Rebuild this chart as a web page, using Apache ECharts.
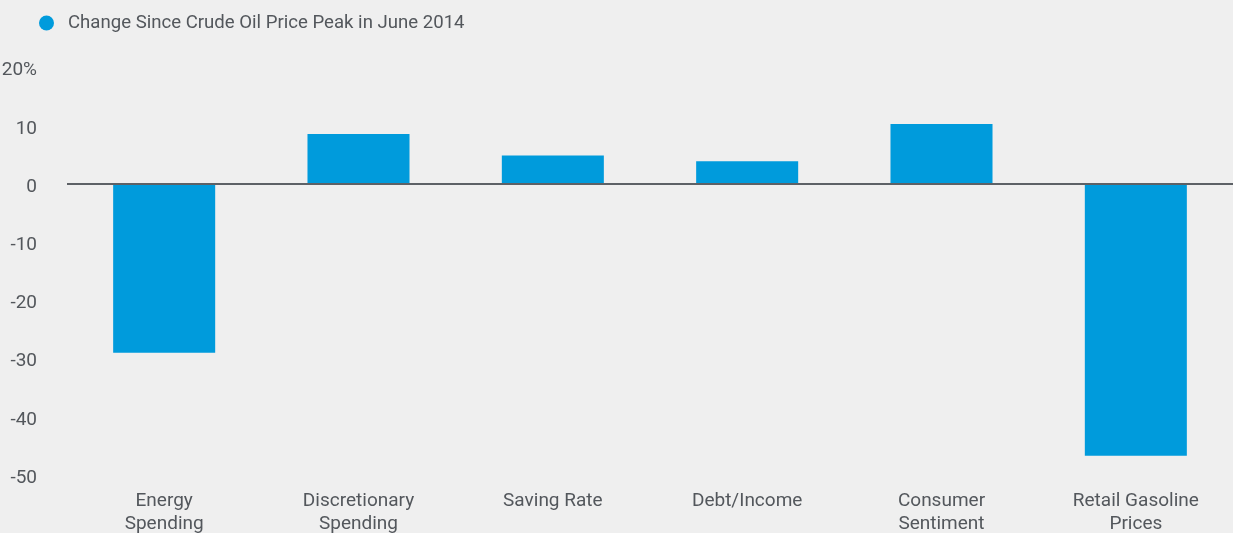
<!DOCTYPE html>
<html>
<head>
<meta charset="utf-8">
<script src="https://cdn.jsdelivr.net/npm/echarts@6/dist/echarts.min.js"></script>
<style>
html,body{margin:0;padding:0;background:#efefef;}
#c{width:1233px;height:533px;}
</style>
</head>
<body>
<div id="c"></div>
<script>
const categories = ['Energy\nSpending', 'Discretionary\nSpending', 'Saving Rate', 'Debt/Income', 'Consumer\nSentiment', 'Retail Gasoline\nPrices'];
const values = [-29.0, 8.6, 4.9, 3.9, 10.3, -46.7];
const seriesName = 'Change Since Crude Oil Price Peak in June 2014';
const yTicks = [20, 10, 0, -10, -20, -30, -40, -50];

const FONT = 'Roboto, "Liberation Sans", sans-serif';
const TXT = '#53575c';
const chart = echarts.init(document.getElementById('c'));
chart.setOption({
  backgroundColor: '#efefef',
  animation: false,
  legend: {
    left: 39, top: 13.5, padding: 0,
    icon: 'circle', itemWidth: 15, itemHeight: 15,
    textStyle: { color: TXT, fontSize: 18.6, fontFamily: FONT, padding: [0, 0, 0, 9] },
    data: [seriesName]
  },
  grid: { left: 67, right: 0, top: 67.6, bottom: 58, containLabel: false, outerBoundsMode: 'none' },
  xAxis: {
    type: 'category',
    data: categories,
    axisLine: { show: false, onZero: false },
    axisTick: { show: false },
    axisLabel: { color: TXT, fontSize: 19, fontFamily: FONT, lineHeight: 23, margin: 15 }
  },
  yAxis: {
    type: 'value',
    min: yTicks[yTicks.length - 1], max: yTicks[0], interval: 10,
    splitLine: { show: false },
    axisLine: { show: false },
    axisTick: { show: false },
    axisLabel: {
      color: TXT, fontSize: 19, fontFamily: FONT, margin: 30,
      formatter: v => '{a|' + (v === yTicks[0] ? v + '%' : String(v)) + '}',
      rich: { a: { color: TXT, fontSize: 19, fontFamily: FONT, padding: [6, 0, 0, 0] } }
    }
  },
  series: [{
    name: seriesName,
    type: 'bar',
    data: values,
    barWidth: '52.5%',
    itemStyle: { color: '#009bdc' },
    markLine: {
      silent: true, symbol: 'none',
      label: { show: false },
      lineStyle: { color: '#5d6166', width: 2, type: 'solid' },
      data: [{ yAxis: 0 }]
    }
  }]
});
</script>
</body>
</html>
